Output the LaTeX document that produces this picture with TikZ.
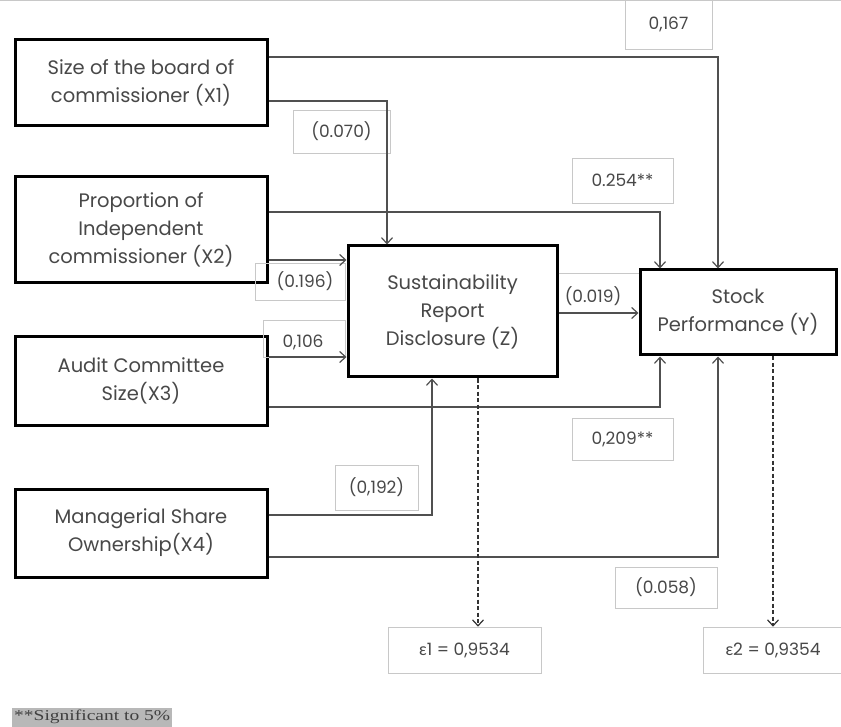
\documentclass[tikz,border=0pt]{standalone}
\usepackage{fontspec}
\setmainfont{Poppins}
\newfontfamily\footfont[FakeStretch=1.3]{Liberation Serif}
\newfontfamily\grkfont{Lato}
\usetikzlibrary{arrows.meta}
\definecolor{txt}{HTML}{484848}
\definecolor{ln}{HTML}{505050}
\definecolor{lbl}{HTML}{C8C8C8}
\begin{document}
\begin{tikzpicture}[x=1pt,y=-1pt,
  bigbox/.style={draw=black,line width=3pt,fill=white,align=center,text=txt,
    font=\fontsize{19.5}{28}\selectfont,inner sep=0pt},
  lblbox/.style={draw=lbl,line width=0.6pt,inner sep=0pt,text=txt,font=\fontsize{17}{18}\selectfont},
  lbltext/.style={text=txt,font=\fontsize{17}{18}\selectfont,inner sep=0pt},
  conn/.style={draw=ln,line width=1.3pt,-{Straight Barb[length=6pt,width=11pt,line width=1.2pt]}},
  dconn/.style={draw=black!80,line width=2pt,dash pattern=on 4pt off 2.5pt,-{Straight Barb[length=6pt,width=11pt,line width=1.2pt]}}]
\useasboundingbox (0,0) rectangle (841,727);
\fill[white] (0,0) rectangle (841,727);
\draw[lbl,line width=1pt] (0,0.5) -- (841,0.5);
% main boxes
\node[bigbox,minimum width=252pt,minimum height=86pt] (x1) at (141,83) {Size of the board of\\commissioner (X1)};
\node[bigbox,minimum width=252pt,minimum height=106pt] (x2) at (141,230) {Proportion of\\Independent\\commissioner (X2)};
\node[bigbox,minimum width=252pt,minimum height=88pt] (x3) at (141,381) {Audit Committee\\Size(X3)};
\node[bigbox,minimum width=252pt,minimum height=88pt] (x4) at (141,533) {Managerial Share\\Ownership(X4)};
\node[bigbox,minimum width=209pt,minimum height=131pt] (z) at (452.5,311.5) {Sustainability\\Report\\Disclosure (Z)};
\node[bigbox,minimum width=196pt,minimum height=85pt] (y) at (738,312.5) {Stock\\Performance (Y)};
% label boxes
\node[lblbox,minimum width=87pt,minimum height=49pt] (l167) at (668.5,24.5) {0,167};
\node[lblbox,minimum width=97pt,minimum height=43pt] (l070) at (341.5,131.5) {(0.070)};
\node[lblbox,minimum width=101pt,minimum height=45pt] (l254) at (622.5,180.5) {0.254**};
\node[lblbox,minimum width=90pt,minimum height=37pt] (l196) at (300,281.5) {};
\node[lbltext] (t196) at (305,281) {(0.196)};
\node[lblbox,minimum width=82pt,minimum height=37pt] (l106) at (304,338.5) {};
\node[lbltext] (t106) at (303,342) {0,106};
\draw[lbl,line width=0.6pt] (z.east |- 0,273) -- (y.west |- 0,273);
\node[lbltext] (t019) at (593,296) {(0.019)};
\node[lblbox,minimum width=101pt,minimum height=42pt] (l209) at (622.5,439) {0,209**};
\node[lblbox,minimum width=83pt,minimum height=45pt] (l192) at (376.5,487.5) {(0,192)};
\node[lblbox,minimum width=102pt,minimum height=41pt] (l058) at (666,587.5) {(0.058)};
\node[lblbox,minimum width=153pt,minimum height=46pt] (e1) at (464.5,650) {{\grkfont ε}1 = 0,9534};
\node[lblbox,minimum width=140pt,minimum height=46pt] (e2) at (773,650) {{\grkfont ε}2 = 0,9354};
% footnote
\node[fill=black!28,inner xsep=2pt,inner ysep=0pt,anchor=west,font=\footfont\fontsize{15}{18}\selectfont,text=black!75,minimum height=19pt] (fn) at (12,717) {**Significant to 5\%};
% connectors
\draw[conn] (x1.east |- 0,57) -| (y.north -| 718,0);
\draw[conn] (x1.east |- 0,101) -| (z.north -| 387,0);
\draw[conn] (x2.east |- 0,212) -| (y.north -| 660,0);
\draw[conn] (x2.east |- 0,260) -- (z.west |- 0,260);
\draw[conn] (x3.east |- 0,357) -- (z.west |- 0,357);
\draw[conn] (x3.east |- 0,407) -| (y.south -| 660,0);
\draw[conn] (x4.east |- 0,515) -| (z.south -| 432,0);
\draw[conn] (x4.east |- 0,557) -| (y.south -| 718,0);
\draw[conn] (z.east |- 0,313) -- (y.west |- 0,313);
\draw[dconn] (z.south -| 478,0) -- (e1.north -| 478,0);
\draw[dconn] (y.south -| 773,0) -- (e2.north -| 773,0);
\end{tikzpicture}
\end{document}
